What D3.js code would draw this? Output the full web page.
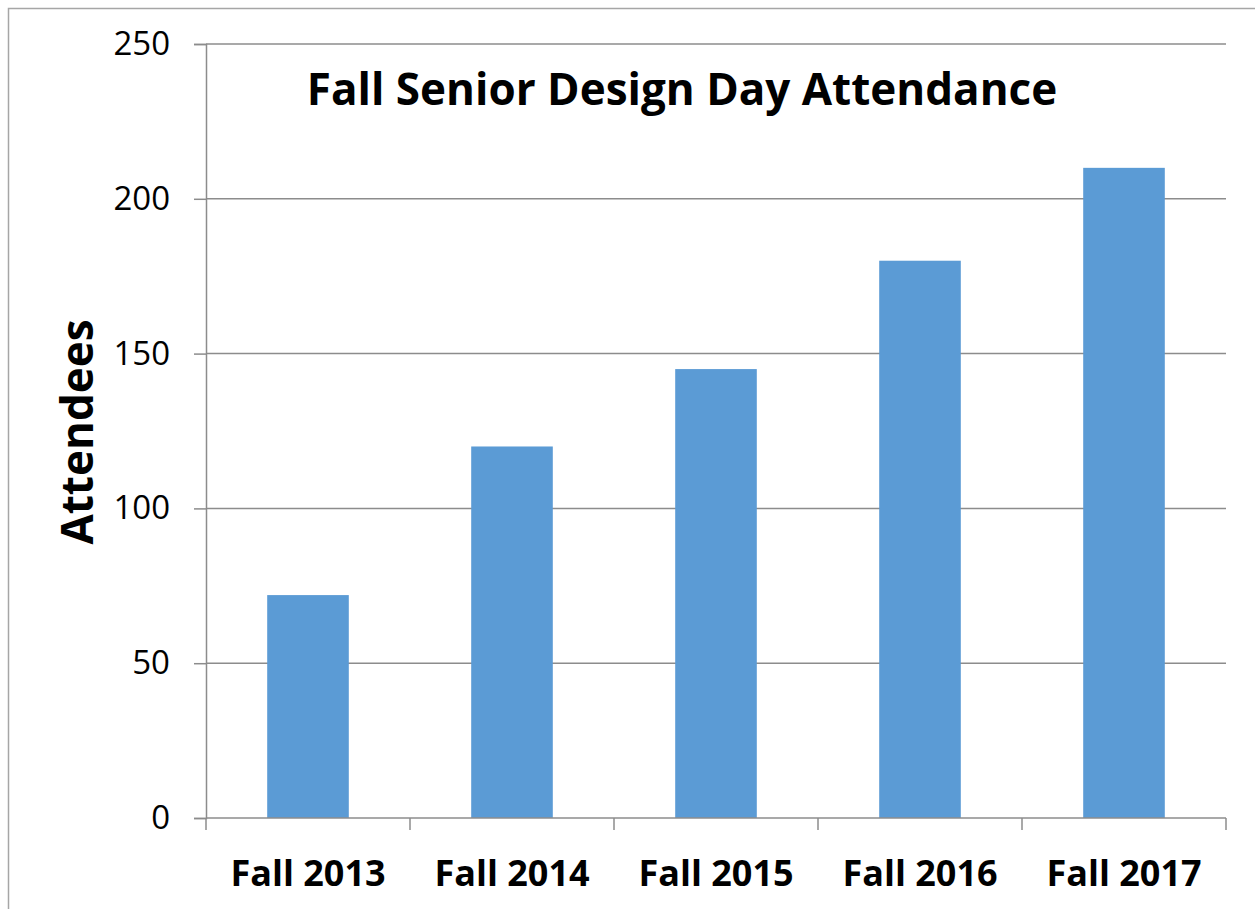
<!DOCTYPE html>
<html><head><meta charset="utf-8">
<script src="https://cdn.jsdelivr.net/npm/d3@7"></script>
<style>body{margin:0;background:#fff}svg{display:block}</style>
</head><body>
<script>
const categories = ["Fall 2013","Fall 2014","Fall 2015","Fall 2016","Fall 2017"];
const attendees = [72,120,145,180,210];
const yTicks = [0,50,100,150,200,250];
const titleText = "Fall Senior Design Day Attendance";
const yTitle = "Attendees";

const W=1255,H=909;
const svg=d3.select("body").append("svg").attr("width",W).attr("height",H);
const font="Open Sans, Liberation Sans, Arial, sans-serif";
// outer frame
svg.append("rect").attr("x",8.5).attr("y",8.5).attr("width",1300).attr("height",1000)
  .attr("fill","none").attr("stroke","#a6a6a6").attr("stroke-width",1.5);

const m={l:206,r:1226,t:44,b:818};
const x=d3.scaleBand().domain(categories).range([m.l,m.r]).paddingInner(0.6).paddingOuter(0.3);
const xb=d3.scaleBand().domain(categories).range([m.l,m.r]);
const y=d3.scaleLinear().domain([0,250]).range([m.b,m.t]);

// gridlines
svg.append("g").selectAll("line").data(yTicks.filter(d=>d>0)).join("line")
  .attr("x1",m.l).attr("x2",m.r).attr("y1",d=>y(d)).attr("y2",d=>y(d))
  .attr("stroke","#8c8c8c").attr("stroke-width",1.5);

// bars
svg.append("g").selectAll("rect").data(attendees).join("rect")
  .attr("x",(d,i)=>x(categories[i])).attr("width",x.bandwidth())
  .attr("y",d=>y(d)).attr("height",d=>y(0)-y(d)).attr("fill","#5b9bd5");

// y axis
const ya=svg.append("g").attr("transform",`translate(${m.l},0)`)
  .call(d3.axisLeft(y).tickValues(yTicks).tickSize(12).tickPadding(24));
ya.select(".domain").attr("stroke","#8c8c8c").attr("stroke-width",1.5);
ya.selectAll(".tick line").attr("stroke","#8c8c8c").attr("stroke-width",1.5);
ya.selectAll("text").attr("font-family",font).attr("font-size",33).attr("fill","#000");

// x axis with boundary ticks
const xa=svg.append("g").attr("transform",`translate(0,${m.b})`);
xa.append("line").attr("x1",m.l).attr("x2",m.r).attr("stroke","#8c8c8c").attr("stroke-width",1.5);
const bounds=categories.map(c=>xb(c)).concat([m.r]);
xa.selectAll("line.t").data(bounds).join("line").attr("class","t")
  .attr("x1",d=>d).attr("x2",d=>d).attr("y1",0).attr("y2",12)
  .attr("stroke","#8c8c8c").attr("stroke-width",1.5);
xa.selectAll("text").data(categories).join("text")
  .attr("x",d=>xb(d)+xb.bandwidth()/2).attr("y",68).attr("text-anchor","middle")
  .attr("font-family",font).attr("font-weight","bold").attr("font-size",36).text(d=>d);

// title
svg.append("text").attr("x",682).attr("y",105).attr("text-anchor","middle")
  .attr("font-family",font).attr("font-weight","bold").attr("font-size",44).text(titleText);
// y title
svg.append("text").attr("transform","translate(93,432) rotate(-90)").attr("text-anchor","middle")
  .attr("font-family",font).attr("font-weight","bold").attr("font-size",44).text(yTitle);
</script>
</body></html>
